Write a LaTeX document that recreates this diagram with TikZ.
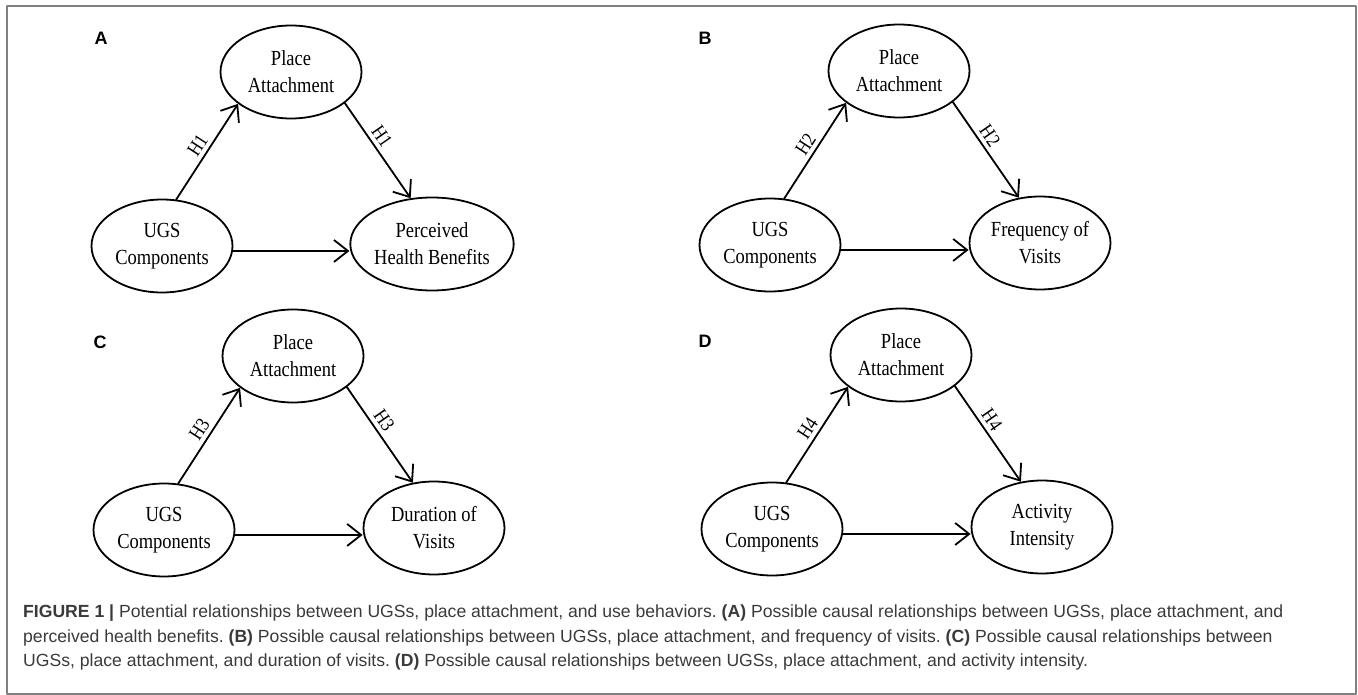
\documentclass[tikz,border=0pt]{standalone}
\usepackage{fontspec}
\setmainfont{Liberation Serif}
\newfontfamily\capfont{Liberation Sans}
\newfontfamily\diagfont[FakeStretch=0.86]{Liberation Serif}
\usetikzlibrary{arrows.meta,shapes.geometric}
\definecolor{capgray}{HTML}{3A3A3A}
\definecolor{framegray}{HTML}{808080}
\frenchspacing

\tikzset{
  construct/.style={ellipse, draw, line width=1.8pt, minimum width=141pt, minimum height=93pt,
    inner sep=0pt, align=center, font=\diagfont\fontsize{21.5}{27}\selectfont},
  link/.style={line width=1.8pt, -{Straight Barb[length=14pt,width=22pt]}},
  hyp/.style={sloped, above, inner sep=4pt, font=\diagfont\fontsize{20}{20}\selectfont},
  panel/.style={font=\capfont\bfseries\fontsize{18}{18}\selectfont},
  captext/.style={anchor=base west, inner sep=0pt, text=capgray, font=\capfont\fontsize{17.6}{20}\selectfont},
}

\begin{document}
\begin{tikzpicture}[x=1pt, y=-1pt, line join=round, line cap=round]
  \useasboundingbox (0,0) rectangle (1358,695);
  \draw[line width=1.2pt, framegray] (7,6) rectangle (1356,694);

  % four panels, same layout
  \foreach \p/\lx/\ly/\dx/\dy/\h/\out in {
      A/101/38/0/0/H1/{Perceived\\Health Benefits},
      B/705/38/608/-1/H2/{Frequency of\\Visits},
      C/100/342/2/284/H3/{Duration of\\Visits},
      D/705/341/610/283/H4/{Activity\\Intensity}}{
    \node[panel] (lbl\p) at (\lx,\ly) {\p};
    \begin{scope}[shift={(\dx,\dy)}]
      \node[construct] (pa\p) at (291,72) {Place\\Attachment};
      \node[construct] (ugs\p) at (162,246) {UGS\\Components};
      \node[construct] (out\p) at (432,244) {\out};
      \draw[link] (ugs\p.73) -- node[hyp] {\h} (pa\p.211);
      \draw[link] (pa\p.330) -- node[hyp, pos=0.42] {\h} (out\p.115);
      \draw[link] (ugs\p.-4) -- (ugs\p.-4 -| out\p.west);
    \end{scope}
  }

  % caption
  \node[captext] (cap1) at (23,617) {\textbf{FIGURE 1 |} Potential relationships between UGSs, place attachment, and use behaviors. \textbf{(A)} Possible causal relationships between UGSs, place attachment, and};
  \node[captext] (cap2) at (23,642) {perceived health benefits. \textbf{(B)} Possible causal relationships between UGSs, place attachment, and frequency of visits. \textbf{(C)} Possible causal relationships between};
  \node[captext] (cap3) at (23,666) {UGSs, place attachment, and duration of visits. \textbf{(D)} Possible causal relationships between UGSs, place attachment, and activity intensity.};
\end{tikzpicture}
\end{document}
